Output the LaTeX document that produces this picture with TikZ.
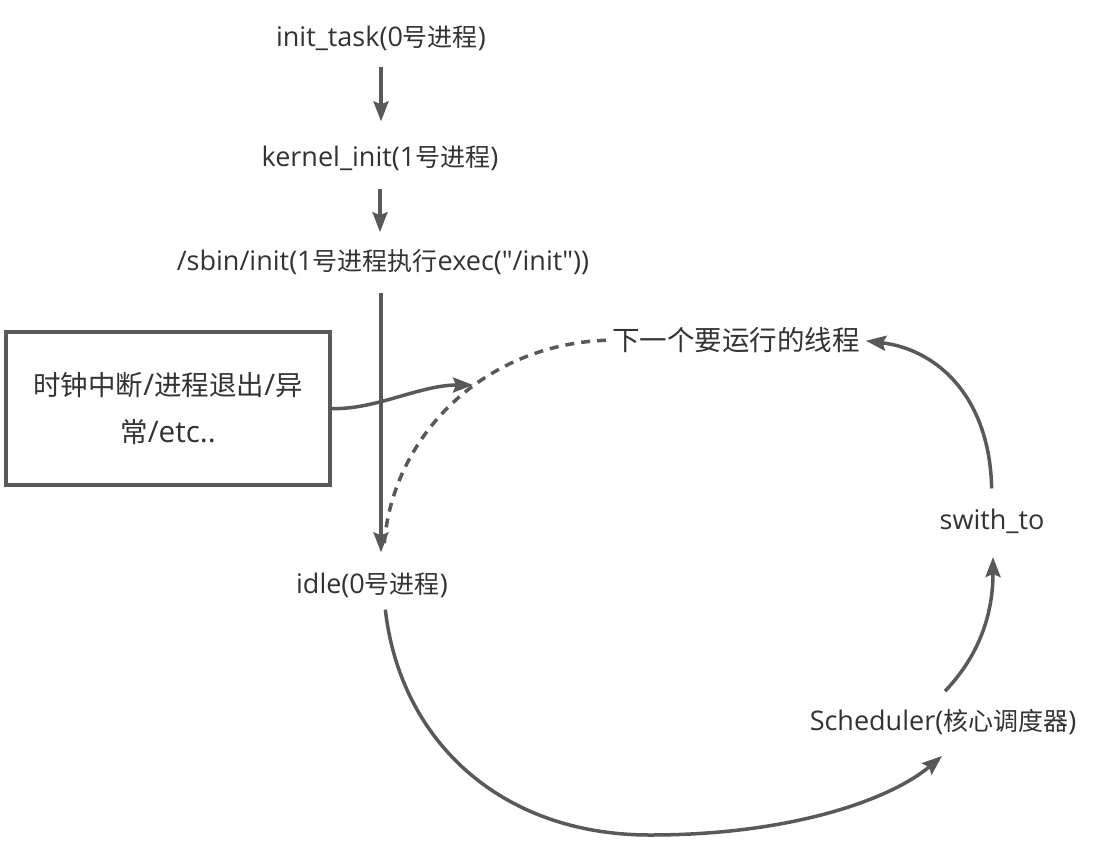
\documentclass[tikz,border=0pt]{standalone}
\usepackage{fontspec}
\setmainfont{Open Sans}[Scale=1.08]
\newfontfamily\plainfont{Open Sans}[Scale=1.08]
\newfontfamily\cjk{Noto Sans CJK SC}
\newcommand{\zh}[1]{{\cjk #1}}
\newcommand{\dq}{{\plainfont\symbol{34}}}
\usetikzlibrary{arrows.meta}
\definecolor{ln}{HTML}{595959}
\definecolor{tx}{HTML}{333333}
\begin{document}
\begin{tikzpicture}[x=1pt,y=-1pt,
  lbl/.style={text=tx, font=\fontsize{25}{29}\selectfont, inner sep=0pt},
  big/.style={text=tx, font=\fontsize{27.5}{47}\selectfont, inner sep=0pt},
  conn/.style={draw=ln, line width=3.5pt, -{Stealth[length=20pt,width=15pt,inset=3pt]}},
  dconn/.style={draw=ln, line width=3.5pt, dash pattern=on 9pt off 7pt}]
\useasboundingbox (0,0) rectangle (1099,856);
\fill[white] (0,0) rectangle (1099,856);

\node[lbl] (init) at (381,38) {init\_task(0\zh{号进程})};
\node[lbl] (kinit) at (380,158) {kernel\_init(1\zh{号进程})};
\node[lbl] (sbin) at (383,262) {/sbin/init(1\zh{号进程执行}exec(\dq/init\dq))};
\node[lbl] (idle) at (372,585) {idle(0\zh{号进程})};
\node[lbl] (sched) at (943,722) {Scheduler(\zh{核心调度器})};
\node[lbl] (swith) at (992,521) {swith\_to};
\node[big] (next) at (736,340) {\zh{下一个要运行的线程}};
\node[big, draw=ln, line width=3.5pt, minimum width=324pt, minimum height=153pt, align=center]
  (box) at (168,408.5) {\zh{时钟中断}/\zh{进程退出}/\zh{异}\\\zh{常}/etc..};

\coordinate (btip) at (473,385);
\coordinate (dend) at (384,548);

\draw[conn, shorten <=16pt, shorten >=24pt] (init.south) -- (init.south |- kinit.north);
\draw[conn, shorten <=18pt, shorten >=17pt] (kinit.south) -- (kinit.south |- sbin.north);
\draw[conn, shorten <=18pt, shorten >=20pt] (sbin.south -| init.south) -- (init.south |- idle.north);

\draw[conn] (box.east) .. controls (375,410) and (420,385) .. (btip);
\draw[dconn, shorten <=6pt] (next.west) .. controls (480,345) and (390,440) .. (dend);

\draw[conn, shorten <=12pt] (idle.south -| dend) .. controls (400,740) and (500,835) .. (650,835)
  .. controls (790,835) and (890,800) .. (942,756);
\draw[conn] (sched.north) ++(2,-18) .. controls (975,660) and (993,620) .. (993,557);
\draw[conn, shorten <=20pt, shorten >=6pt] (swith.north) .. controls (990,400) and (940,350) .. (next.east);
\end{tikzpicture}
\end{document}
